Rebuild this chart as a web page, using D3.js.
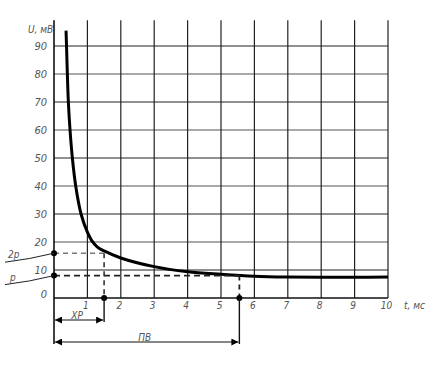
<!DOCTYPE html>
<html>
<head>
<meta charset="utf-8">
<script src="https://cdn.jsdelivr.net/npm/d3@7"></script>
<style>
  body { margin: 0; background: #fff; }
  svg text { font-family: "DejaVu Sans Condensed", "DejaVu Sans", sans-serif; font-style: italic; fill: #555; }
</style>
</head>
<body>
<div id="chart"></div>
<script>
// strength-duration curve
const tValues = [0.36, 0.375, 0.40, 0.43, 0.48, 0.55, 0.65, 0.81, 1.0, 1.13, 1.3, 1.5, 2, 3, 4, 5, 6, 7, 8, 9, 10];
const uValues = [95.5, 90, 80, 70, 60, 50, 40, 30, 23.5, 20.5, 18.2, 16.8, 14.3, 11.2, 9.4, 8.5, 7.8, 7.5, 7.4, 7.4, 7.5];
const xTicks = [1, 2, 3, 4, 5, 6, 7, 8, 9, 10];
const yTicks = [0, 10, 20, 30, 40, 50, 60, 70, 80, 90];
const rheobase = 8;        // p
const chronaxie = 1.5;     // ХР
const usefulTime = 5.55;   // ПВ

const width = 438, height = 366;
const svg = d3.select("#chart").append("svg")
  .attr("width", width).attr("height", height);

const x = d3.scaleLinear().domain([0, 10]).range([54, 388]);
const y = d3.scaleLinear().domain([0, 100]).range([298, 18]);
const yTop = 99.2;

// grid
svg.append("g").selectAll("line.h")
  .data(yTicks.filter(d => d > 0))
  .enter().append("line")
  .attr("x1", x(0)).attr("x2", x(10))
  .attr("y1", d => y(d)).attr("y2", d => y(d))
  .attr("stroke", (d, i) => i % 2 ? "#555" : "#222")
  .attr("stroke-width", 1.2);

svg.append("g").selectAll("line.v")
  .data(xTicks)
  .enter().append("line")
  .attr("x1", d => x(d)).attr("x2", d => x(d))
  .attr("y1", y(yTop)).attr("y2", y(0))
  .attr("stroke", "#222")
  .attr("stroke-width", 1.2);

// axes lines
svg.append("line")
  .attr("x1", x(0)).attr("x2", x(10))
  .attr("y1", y(0)).attr("y2", y(0))
  .attr("stroke", "#111").attr("stroke-width", 1.6);
svg.append("line")
  .attr("x1", x(0)).attr("x2", x(0))
  .attr("y1", y(yTop)).attr("y2", 344)
  .attr("stroke", "#111").attr("stroke-width", 1.6);

// tick labels
svg.append("g").selectAll("text")
  .data(yTicks)
  .enter().append("text")
  .attr("x", 47)
  .attr("y", d => d === 0 ? y(d) - 4 : y(d))
  .attr("dy", "0.35em")
  .attr("text-anchor", "end")
  .attr("font-size", 11)
  .text(d => d);

svg.append("g").selectAll("text")
  .data(xTicks)
  .enter().append("text")
  .attr("x", d => x(d) - 1.5)
  .attr("y", 309)
  .attr("text-anchor", "middle")
  .attr("font-size", 10)
  .text(d => d);

svg.append("text").attr("x", 28).attr("y", 33).attr("font-size", 10).text("U, мВ");
svg.append("text").attr("x", 404).attr("y", 309).attr("font-size", 10).text("t, мс");

// curve
const line = d3.line()
  .x((d, i) => x(tValues[i]))
  .y(d => y(d))
  .curve(d3.curveCatmullRom.alpha(0.5));

svg.append("path")
  .datum(uValues)
  .attr("d", line)
  .attr("fill", "none")
  .attr("stroke", "#000")
  .attr("stroke-width", 3);

// dashed construction lines
svg.append("line")
  .attr("x1", x(0)).attr("x2", x(chronaxie))
  .attr("y1", y(2 * rheobase)).attr("y2", y(2 * rheobase))
  .attr("stroke", "#777").attr("stroke-width", 1.4).attr("stroke-dasharray", "5,4");
svg.append("line")
  .attr("x1", x(chronaxie)).attr("x2", x(chronaxie))
  .attr("y1", y(2 * rheobase)).attr("y2", y(0))
  .attr("stroke", "#333").attr("stroke-width", 1.6).attr("stroke-dasharray", "5,4");
svg.append("line")
  .attr("x1", x(0)).attr("x2", x(usefulTime))
  .attr("y1", y(rheobase)).attr("y2", y(rheobase))
  .attr("stroke", "#222").attr("stroke-width", 1.8).attr("stroke-dasharray", "6,4");
svg.append("line")
  .attr("x1", x(usefulTime)).attr("x2", x(usefulTime))
  .attr("y1", y(rheobase)).attr("y2", y(0))
  .attr("stroke", "#222").attr("stroke-width", 1.8).attr("stroke-dasharray", "5,4");

// dots
const dots = [[0, 2 * rheobase], [0, rheobase], [chronaxie, 0], [usefulTime, 0]];
svg.append("g").selectAll("circle")
  .data(dots)
  .enter().append("circle")
  .attr("cx", d => x(d[0])).attr("cy", d => y(d[1]))
  .attr("r", 3).attr("fill", "#000");

// leaders for p and 2p
const leader = (u, label, lx) => {
  svg.append("path")
    .attr("d", `M5,${y(u) + 9} Q30,${y(u) + 6} ${x(0)},${y(u)}`)
    .attr("fill", "none").attr("stroke", "#222").attr("stroke-width", 1);
  svg.append("text").attr("x", lx).attr("y", y(u) + 5).attr("font-size", 10).text(label);
};
leader(2 * rheobase, "2р", 8);
leader(rheobase, "р", 10);

// dimension arrows
svg.append("defs").append("marker")
  .attr("id", "arr").attr("viewBox", "0 0 10 10")
  .attr("refX", 10).attr("refY", 5)
  .attr("markerWidth", 9).attr("markerHeight", 7)
  .attr("markerUnits", "userSpaceOnUse")
  .attr("orient", "auto-start-reverse")
  .append("path").attr("d", "M0,0 L10,5 L0,10 Z").attr("fill", "#000");

const dim = (t, yy, label) => {
  svg.append("line")
    .attr("x1", x(t)).attr("x2", x(t))
    .attr("y1", y(0)).attr("y2", yy + 2)
    .attr("stroke", "#111").attr("stroke-width", 1.4);
  svg.append("line")
    .attr("x1", x(0) + 1).attr("x2", x(t) - 1)
    .attr("y1", yy).attr("y2", yy)
    .attr("stroke", "#111").attr("stroke-width", 1.2)
    .attr("marker-start", "url(#arr)").attr("marker-end", "url(#arr)");
  svg.append("text")
    .attr("x", (x(0) + x(t)) / 2 - 2).attr("y", yy - 1.5)
    .attr("text-anchor", "middle").attr("font-size", 10)
    .text(label);
};
dim(chronaxie, 320, "ХР");
dim(usefulTime, 342, "ПВ");
</script>
</body>
</html>
